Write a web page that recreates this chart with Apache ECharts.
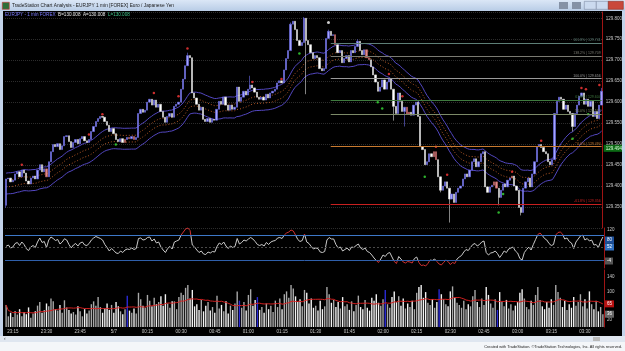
<!DOCTYPE html>
<html><head><meta charset="utf-8">
<script src="https://cdn.jsdelivr.net/npm/echarts@6/dist/echarts.min.js"></script>
<style>html,body{margin:0;padding:0;background:#000;overflow:hidden}#c{width:625px;height:351px}</style>
</head><body><div id="c"></div>
<script>
// ---- DATA ----
const firstOpen = 129.354;
const closes = [
129.417,129.419,129.410,129.414,129.429,129.434,129.422,129.438,129.431,129.412,129.405,129.419,129.424,129.417,129.438,
129.451,129.434,129.441,129.422,129.458,129.482,129.499,129.494,129.501,129.487,129.496,129.518,129.520,129.506,129.492,
129.504,129.511,129.501,129.513,129.518,129.508,129.504,129.511,129.530,129.542,129.554,129.561,129.566,129.564,129.554,
129.545,129.530,129.537,129.525,129.511,129.506,129.513,129.504,129.511,129.516,129.513,129.518,129.511,129.516,129.573,
129.583,129.576,129.581,129.600,129.607,129.593,129.605,129.588,129.595,129.578,129.564,129.552,129.566,129.573,129.564,
129.590,129.595,129.600,129.631,129.655,129.687,129.711,129.706,129.622,129.610,129.595,129.581,129.588,129.559,129.554,
129.561,129.552,129.559,129.557,129.583,129.602,129.595,129.612,129.593,129.581,129.593,129.583,129.588,129.636,129.602,
129.612,129.626,129.617,129.631,129.641,129.634,129.624,129.612,129.607,129.612,129.605,129.619,129.610,129.622,129.626,
129.631,129.646,129.651,129.646,129.677,129.704,129.723,129.786,129.793,129.773,129.747,129.735,129.742,129.800,129.747,
129.737,129.718,129.704,129.711,129.706,129.680,129.675,129.680,129.752,129.769,129.759,129.761,129.737,129.718,129.723,
129.694,129.704,129.711,129.696,129.723,129.718,129.733,129.745,129.723,129.713,129.725,129.706,129.701,129.684,129.665,
129.648,129.626,129.636,129.653,129.631,129.648,129.655,129.631,129.590,129.573,129.622,129.602,129.578,129.588,129.571,
129.576,129.569,129.593,129.600,129.566,129.494,129.487,129.451,129.458,129.477,129.470,129.482,129.463,129.422,129.390,
129.400,129.410,129.395,129.369,129.381,129.361,129.385,129.395,129.400,129.417,129.429,129.422,129.438,129.458,129.465,
129.446,129.458,129.477,129.482,129.398,129.385,129.398,129.402,129.410,129.395,129.373,129.390,129.405,129.398,129.414,
129.419,129.424,129.400,129.390,129.349,129.337,129.395,129.410,129.419,129.398,129.429,129.458,129.494,129.499,129.492,
129.482,129.477,129.458,129.451,129.463,129.573,129.602,129.612,129.607,129.583,129.593,129.578,129.573,129.542,129.573,
129.593,129.614,129.622,129.595,129.607,129.590,129.602,129.566,129.578,129.561,129.593,129.626];
// [bar index, high, low] for visible wicks
const wicks = [[0,null,129.348],[81,129.718,null],[109,129.663,null],[127,129.790,null],[133,129.803,null],
[134,null,129.619],[144,129.773,null],[157,129.750,null],[173,null,129.556],[178,null,129.542],[194,null,129.385],
[198,null,129.313],[220,null,129.354],[230,null,129.330],[253,null,129.530],[266,129.634,null]];
const redBars = [18,53,55,57,147,161,162,179,180,191,192,218,219,226];
const volumes = [
62,30,40,28,45,35,50,30,42,36,55,26,38,44,60,
70,40,48,66,58,80,72,50,46,62,40,75,55,48,38,
42,35,58,44,30,50,38,46,64,72,60,84,56,40,52,
66,48,62,40,70,58,44,36,50,88,46,40,52,38,96,
78,60,54,90,74,58,82,64,70,86,60,92,66,54,72,
72,50,84,96,90,110,118,80,104,58,64,48,76,44,60,
70,46,56,40,88,52,62,44,72,38,60,48,66,100,74,
54,70,46,90,106,60,76,84,48,56,40,66,50,60,42,
74,56,80,50,92,100,82,118,108,86,70,78,58,104,96,
66,80,54,60,46,74,50,58,112,92,68,76,56,70,52,
84,58,64,48,72,44,62,88,56,50,76,54,46,82,74,
92,68,60,78,104,64,54,84,100,70,86,60,80,52,66,
56,74,50,96,112,118,82,98,68,62,78,54,70,106,92,
78,64,58,100,114,82,68,62,54,74,50,64,58,86,104,
70,56,80,62,112,90,66,54,78,48,98,70,58,76,52,
64,46,60,70,96,106,80,56,50,74,62,90,112,76,58,
50,70,54,78,62,118,98,82,56,74,48,64,54,84,60,
70,92,58,78,52,100,64,50,74,44,56,36];
const blueVolBars = [54,104,112,169,193,219];
const osc = [
55,60,48,52,66,70,58,72,62,45,38,52,58,50,72,
88,70,74,50,80,92,86,78,82,64,72,85,80,62,48,
60,66,56,68,72,60,58,66,80,88,94,90,86,80,62,
50,36,46,38,28,26,36,30,40,44,42,48,42,46,86,
88,80,82,90,92,76,84,68,72,52,40,30,46,54,44,
72,76,80,100,112,124,128,118,60,52,40,30,36,24,22,
32,28,34,32,54,68,62,72,56,46,56,50,54,86,64,
70,80,76,84,90,84,74,62,58,62,56,70,62,72,76,
78,88,90,86,100,108,112,120,116,100,82,74,78,104,72,
66,54,44,48,46,32,30,34,80,90,84,84,62,48,52,
36,42,48,38,52,50,58,64,48,42,48,34,30,20,8,
-2,-10,4,20,14,26,30,12,-6,-14,14,4,-8,-12,-6,
-8,-12,6,12,-10,-22,-20,-24,-14,0,-2,4,-6,-16,-20,
-10,0,-6,-18,-10,-14,4,12,18,32,42,38,50,62,66,
56,62,72,76,30,20,28,30,36,26,10,22,36,30,44,
48,52,36,28,6,0,30,42,52,40,62,82,102,108,98,
86,80,66,58,62,100,110,112,104,84,88,74,68,46,72,
84,96,100,80,86,76,80,60,62,50,74,92];
const redDots = [[7,129.451],[37,129.523],[43,129.571],[66,129.622],[77,129.614],[81,129.728],[110,129.648],
[123,129.655],[171,129.667],[177,129.614],[192,129.494],[197,129.427],[226,129.434],[239,129.508],[257,129.634],[259,129.631],[265,129.641]];
const greenDots = [[49,129.499],[131,129.716],[166,129.600],[168,129.585],[187,129.422],[220,129.337],[222,129.381],[253,129.513],[260,129.571]];
const whiteDots = [[144,129.790]];
const fibStart = 145;
const fibLevels = [129.741,129.709,129.656,129.604,129.572,129.494,129.356];
const fibNames = ['161.8%','138.2%','100.0%','61.8%','50.0%','0.0%','-61.8%'];
const timeLabels = ['23:15','23:30','23:45','5/7','00:15','00:30','00:45','01:00','01:15','01:30','01:45','02:00','02:15','02:30','02:45','03:00','03:15','03:30'];
const firstLabelBar = 3, barsPerLabel = 15;
const bandSeed = 129.405, bandPeriod = 30, bandOuter = 0.025, bandInner = 0.008, volMAPeriod = 20;
const oscLevels = [100, 50, 0];
const oscBoxes = [['80',80,'#1c4f9a'],['52',52,'#2f6fc0'],['-4',-4,'#555']];
const priceBox = 129.494;

// ---- BUILD ----
const fibColors = ['#5d7f77','#7a7a72','#9a9a9a','#3f7a3f','#7c8a68','#c87a30','#c82020'];
const N = closes.length;
const cats = closes.map((_, i) => String(i));
const opens = closes.map((c, i) => i === 0 ? firstOpen : closes[i - 1]);
const highs = closes.map((c, i) => Math.max(c, opens[i]));
const lows = closes.map((c, i) => Math.min(c, opens[i]));
wicks.forEach(([i, h, l]) => { if (h != null) highs[i] = Math.max(highs[i], h); if (l != null) lows[i] = Math.min(lows[i], l); });
const candleData = closes.map((c, i) => {
  const it = { value: [opens[i], c, lows[i], highs[i]] };
  if (redBars.includes(i)) it.itemStyle = { color: '#e08a8a', color0: '#e08a8a', borderColor: '#c66a6a', borderColor0: '#c66a6a' };
  return it;
});
const k = 2 / (bandPeriod + 1); let e = bandSeed;
const mid = closes.map(v => (e = e + k * (v - e)));
const band = off => mid.map(v => +(v + off).toFixed(4));
const volMA = volumes.map((v, i) => { const w = volumes.slice(Math.max(0, i - volMAPeriod + 1), i + 1); return w.reduce((a, b) => a + b, 0) / w.length; });
const font = "'Liberation Sans', Arial, sans-serif";
const L = 5, R = 21;
const boxLabel = (txt, bg) => ({ show: true, position: 'end', distance: 1, fontSize: 4.5, color: '#fff', backgroundColor: bg, padding: [1, 2, 1, 2], formatter: txt });

const chart = echarts.init(document.getElementById('c'), null, { renderer: 'canvas' });
const hidden = { show: false };
chart.setOption({
  animation: false,
  backgroundColor: '#000',
  textStyle: { fontFamily: font },
  grid: [
    { left: L, right: R, top: 12, height: 216 },
    { left: L, right: R, top: 228, height: 40 },
    { left: L, right: R, top: 270, height: 57 }
  ],
  xAxis: [0, 1, 2].map(g => ({
    type: 'category', gridIndex: g, data: cats, boundaryGap: true,
    axisLine: hidden, axisTick: hidden, splitLine: hidden,
    axisLabel: g < 2 ? hidden : {
      color: '#c8c8c8', fontSize: 4.5, margin: 2.5,
      interval: idx => idx >= firstLabelBar && (idx - firstLabelBar) % barsPerLabel === 0,
      formatter: (v, idx) => timeLabels[(idx - firstLabelBar) / barsPerLabel] || ''
    }
  })),
  yAxis: [
    { type: 'value', gridIndex: 0, position: 'right', min: 129.30, max: 129.815, interval: 0.05,
      axisLine: { show: true, lineStyle: { color: '#a01414', width: 1 } }, axisTick: hidden,
      axisLabel: { color: '#c8c8c8', fontSize: 4.5, margin: 3, showMinLabel: false, showMaxLabel: false, formatter: v => v.toFixed(3) },
      splitLine: { show: true, lineStyle: { color: '#2c2c2c', type: 'dotted', width: 1 } } },
    { type: 'value', gridIndex: 1, position: 'right', min: -32, max: 128,
      axisLine: { show: true, lineStyle: { color: '#a01414', width: 1 } }, axisTick: hidden,
      axisLabel: { color: '#c8c8c8', fontSize: 4.5, margin: 3, customValues: [120] },
      splitLine: hidden },
    { type: 'value', gridIndex: 2, position: 'right', min: 0, max: 160,
      axisLine: { show: true, lineStyle: { color: '#a01414', width: 1 } }, axisTick: hidden,
      axisLabel: { color: '#c8c8c8', fontSize: 4.5, margin: 3, customValues: [20, 100, 140] },
      splitLine: hidden }
  ],
  series: [
    { type: 'line', xAxisIndex: 0, yAxisIndex: 0, data: band(bandOuter), symbol: 'none', z: 1,
      lineStyle: { color: '#5347c0', width: 1 } },
    { type: 'line', xAxisIndex: 0, yAxisIndex: 0, data: band(-bandOuter), symbol: 'none', z: 1,
      lineStyle: { color: '#5347c0', width: 1 } },
    { type: 'line', xAxisIndex: 0, yAxisIndex: 0, data: band(bandInner), symbol: 'none', z: 1,
      lineStyle: { color: '#b85a26', width: 1, type: [1, 2] } },
    { type: 'line', xAxisIndex: 0, yAxisIndex: 0, data: band(-bandInner), symbol: 'none', z: 1,
      lineStyle: { color: '#b85a26', width: 1, type: [1, 2] } },
    { type: 'candlestick', xAxisIndex: 0, yAxisIndex: 0, data: candleData, barWidth: '78%', z: 3, clip: false,
      itemStyle: { color: '#a4a4ff', color0: '#ffffff', borderColor: '#6b6bea', borderColor0: '#dcdcdc', borderWidth: 0.6 },
      markLine: { symbol: 'none', silent: true, animation: false,
        data: fibLevels.map((v, j) => [
          { coord: [String(fibStart), v], lineStyle: { color: fibColors[j], width: 1, type: 'solid' },
            label: { show: true, position: 'insideEndTop', distance: 1, fontSize: 3.5, color: fibColors[j],
              formatter: fibNames[j] + ' | ' + v.toFixed(3) } },
          { coord: [String(N - 1), v] }
        ]).concat([
          { yAxis: priceBox, lineStyle: { color: 'rgba(0,0,0,0)', width: 0 }, label: Object.assign(boxLabel(priceBox.toFixed(3), '#0c6a14'), { color: '#d8ffd8' }) }
        ]) } },
    { type: 'scatter', xAxisIndex: 0, yAxisIndex: 0, data: redDots, symbolSize: 2.5, z: 4, itemStyle: { color: '#ff3a3a' } },
    { type: 'scatter', xAxisIndex: 0, yAxisIndex: 0, data: greenDots, symbolSize: 2.5, z: 4, itemStyle: { color: '#38e038' } },
    { type: 'scatter', xAxisIndex: 0, yAxisIndex: 0, data: whiteDots, symbolSize: 3, z: 4, itemStyle: { color: '#ffffff' } },
    { type: 'line', xAxisIndex: 1, yAxisIndex: 1, data: osc, symbol: 'none', z: 3, clip: false,
      lineStyle: { width: 1 },
      markLine: { symbol: 'none', silent: true, animation: false,
        data: [
          { yAxis: oscLevels[0], lineStyle: { color: '#3d78c8', width: 1, type: 'solid' }, label: hidden },
          { yAxis: oscLevels[1], lineStyle: { color: '#4a4a4a', width: 1, type: [2, 2] }, label: hidden },
          { yAxis: oscLevels[2], lineStyle: { color: '#2f5faa', width: 1, type: 'solid' }, label: hidden }
        ].concat(oscBoxes.map(b => ({ yAxis: b[1], lineStyle: { color: 'rgba(0,0,0,0)', width: 0 }, label: boxLabel(b[0], b[2]) }))) } },
    { type: 'bar', xAxisIndex: 2, yAxisIndex: 2, data: volumes, barWidth: '62%', z: 2,
      itemStyle: { color: p => blueVolBars.includes(p.dataIndex) ? '#2a2ad8' : (closes[p.dataIndex] >= opens[p.dataIndex] ? '#a8a8a8' : '#f2f2f2') } },
    { type: 'line', xAxisIndex: 2, yAxisIndex: 2, data: volMA.map(v => +v.toFixed(2)), symbol: 'none', z: 3, clip: false,
      lineStyle: { color: '#d42020', width: 1 },
      markLine: { symbol: 'none', silent: true, animation: false, data: [
        { yAxis: +volMA[N - 1].toFixed(0), lineStyle: { color: 'rgba(0,0,0,0)', width: 0 }, label: boxLabel(String(Math.round(volMA[N - 1])), '#b81010') },
        { yAxis: volumes[N - 1], lineStyle: { color: 'rgba(0,0,0,0)', width: 0 }, label: boxLabel(String(volumes[N - 1]), '#666') }
      ] } }
  ],
  visualMap: [{ show: false, type: 'piecewise', seriesIndex: 8, dimension: 1,
    pieces: [{ lt: 0, color: '#d03030' }, { gte: 0, lte: 100, color: '#c9c9c9' }, { gt: 100, color: '#d03030' }] }],
  graphic: [
    { type: 'rect', left: 0, top: 0, shape: { width: 625, height: 11 }, z: 10,
      style: { fill: new echarts.graphic.LinearGradient(0, 0, 0, 1, [{ offset: 0, color: '#dbe7f6' }, { offset: 1, color: '#b8cce6' }]) } },
    { type: 'rect', left: 2, top: 2, shape: { width: 7, height: 7 }, z: 11, style: { fill: '#2d6e3a', stroke: '#c33', lineWidth: 0.6 } },
    { type: 'text', left: 12, top: 3, z: 11, style: { text: 'TradeStation Chart Analysis - EURJPY 1 min [FOREX] Euro / Japanese Yen', fontSize: 4.8, fill: '#1a1a1a', fontFamily: font } },
    { type: 'rect', left: 559, top: 2, shape: { width: 9, height: 7 }, z: 11, style: { fill: '#8592a6' } },
    { type: 'rect', left: 572, top: 2, shape: { width: 9, height: 7 }, z: 11, style: { fill: '#8592a6' } },
    { type: 'rect', left: 584, top: 1, shape: { width: 12, height: 8 }, z: 11, style: { fill: '#cbdaef', stroke: '#7d8ca3', lineWidth: 0.6 } },
    { type: 'rect', left: 596, top: 1, shape: { width: 12, height: 8 }, z: 11, style: { fill: '#cbdaef', stroke: '#7d8ca3', lineWidth: 0.6 } },
    { type: 'rect', left: 608, top: 1, shape: { width: 15, height: 8 }, z: 11, style: { fill: '#c9483a', stroke: '#8a2a20', lineWidth: 0.6 } },
    { type: 'rect', left: 0, top: 11, shape: { width: 3, height: 325 }, z: 10, style: { fill: '#c3d3ea' } },
    { type: 'rect', left: 622, top: 11, shape: { width: 3, height: 325 }, z: 10, style: { fill: '#c3d3ea' } },
    { type: 'rect', left: 0, top: 336, shape: { width: 625, height: 6 }, z: 10, style: { fill: '#dfe6f0' } },
    { type: 'rect', left: 593, top: 337, shape: { width: 7, height: 4 }, z: 11, style: { fill: '#b9b9b9' } },
    { type: 'text', left: 4, top: 336, z: 11, style: { text: '‹', fontSize: 5, fill: '#444', fontFamily: font } },
    { type: 'rect', left: 0, top: 342, shape: { width: 625, height: 9 }, z: 10, style: { fill: '#f4f6f9' } },
    { type: 'text', right: 3, top: 344.5, z: 11, style: { text: 'Created with TradeStation. ©TradeStation Technologies, Inc. All rights reserved.', fontSize: 3.9, fill: '#222', fontFamily: font } },
    { type: 'text', left: 5, top: 12.5, z: 11, style: { fontFamily: font, fontSize: 4.6,
      text: '{a|EURJPY - 1 min FOREX}  {b|B=130.008  A=130.008}  {c|L=130.008}',
      rich: { a: { fill: '#7c7cff', fontSize: 4.6 }, b: { fill: '#e8e8e8', fontSize: 4.6 }, c: { fill: '#3fc28a', fontSize: 4.6 } } } }
  ]
});
</script></body></html>
